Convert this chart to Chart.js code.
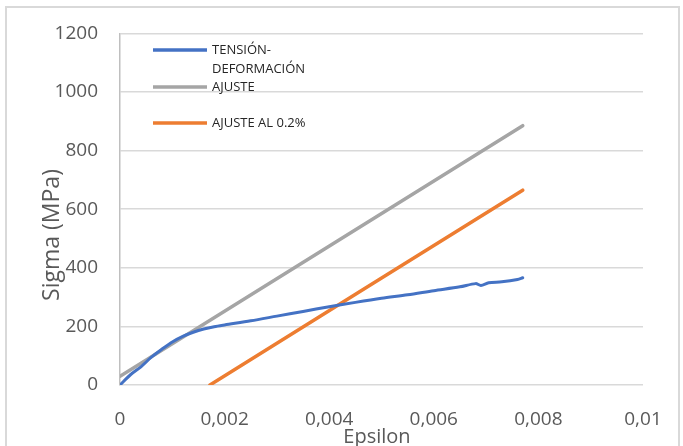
<!DOCTYPE html>
<html>
<head>
<meta charset="utf-8">
<script src="https://cdn.jsdelivr.net/npm/chart.js@4/dist/chart.umd.min.js"></script>
<style>
  body { margin: 0; background: #fff; }
  #wrap { width: 683px; height: 446px; position: relative; }
</style>
</head>
<body>
<div id="wrap"><canvas id="chart"></canvas></div>
<script>
// stress-strain curve
const epsTension = [0, 0.0002, 0.0004, 0.0006, 0.0008, 0.001, 0.0012, 0.0014, 0.0016, 0.0018, 0.002,
  0.0025, 0.003, 0.0035, 0.004, 0.0045, 0.005, 0.0055, 0.006, 0.0065, 0.0068, 0.0069, 0.00705, 0.0073, 0.0076, 0.0077];
const sigmaTension = [0, 35, 62, 95, 122, 147, 166, 180, 191, 199, 205,
  219, 235, 251, 267, 282, 296, 308, 322, 335, 346, 340, 349, 352, 360, 366];

// elastic fit
const epsAjuste = [0, 0.0077];
const sigmaAjuste = [30, 885];

// 0.2% offset line
const epsOffset = [0.00172, 0.0077];
const sigmaOffset = [0, 665];

const seriesNames = ['TENSIÓN-\nDEFORMACIÓN', 'AJUSTE', 'AJUSTE AL 0.2%'];
const seriesColors = ['#4472C4', '#A5A5A5', '#ED7D31'];

const xTicks = [0, 0.002, 0.004, 0.006, 0.008, 0.01];
const yTicks = [0, 200, 400, 600, 800, 1000, 1200];

function toPoints(xs, ys) {
  return xs.map((x, i) => ({ x: x, y: ys[i] }));
}

const FONT = "'Open Sans', 'Liberation Sans', sans-serif";
const TEXT = '#595959';

// frame around whole chart + custom legend + axis titles
const decorations = {
  id: 'decorations',
  beforeDraw(chart) {
    const c = chart.ctx;
    c.save();
    c.fillStyle = '#fff';
    c.fillRect(0, 0, chart.width, chart.height);
    c.strokeStyle = '#d9d9d9';
    c.lineWidth = 2;
    c.strokeRect(6, 7, 673, 460);
    c.restore();
  },
  afterDraw(chart) {
    const c = chart.ctx;
    c.save();
    // legend
    const rows = [50, 87, 123];
    c.font = '13px ' + FONT;
    c.fillStyle = '#262626';
    c.textBaseline = 'middle';
    seriesNames.forEach((name, i) => {
      c.strokeStyle = seriesColors[i];
      c.lineWidth = 3.5;
      c.beginPath();
      c.moveTo(153, rows[i]);
      c.lineTo(207, rows[i]);
      c.stroke();
      name.split('\n').forEach((line, j) => {
        c.fillText(line, 212, rows[i] + j * 19);
      });
    });
    // axis titles
    c.fillStyle = TEXT;
    c.textAlign = 'center';
    c.font = '20px ' + FONT;
    c.fillText('Epsilon', 377, 437);
    c.translate(52, 235);
    c.rotate(-Math.PI / 2);
    c.font = '23px ' + FONT;
    c.fillText('Sigma (MPa)', 0, 0);
    c.restore();
  }
};

const datasets = [
  { data: toPoints(epsTension, sigmaTension), borderColor: seriesColors[0], borderWidth: 3 },
  { data: toPoints(epsAjuste, sigmaAjuste), borderColor: seriesColors[1], borderWidth: 3.5 },
  { data: toPoints(epsOffset, sigmaOffset), borderColor: seriesColors[2], borderWidth: 3.5 }
].map(d => Object.assign(d, { pointRadius: 0, fill: false, tension: 0.3, borderCapStyle: 'round' }));

new Chart(document.getElementById('chart'), {
  type: 'line',
  data: { datasets: datasets },
  options: {
    responsive: true,
    maintainAspectRatio: false,
    animation: false,
    layout: { padding: { top: 33, right: 40, left: 0, bottom: 0 } },
    plugins: { legend: { display: false }, tooltip: { enabled: false } },
    scales: {
      x: {
        type: 'linear',
        min: 0,
        max: 0.01,
        afterFit(s) { s.height = 61; },
        afterBuildTicks(s) { s.ticks = xTicks.map(v => ({ value: v })); },
        grid: { display: false },
        border: { display: false },
        ticks: {
          padding: 15,
          color: TEXT,
          font: { family: FONT, size: 19 },
          maxRotation: 0,
          callback: v => v === 0 ? '0' : String(+v.toFixed(3)).replace('.', ',')
        }
      },
      y: {
        min: 0,
        max: 1200,
        afterFit(s) { s.width = 120; },
        afterBuildTicks(s) { s.ticks = yTicks.map(v => ({ value: v })); },
        grid: { color: '#d9d9d9', lineWidth: 1.5, drawTicks: false },
        border: { display: true, color: '#bfbfbf', width: 1.5 },
        ticks: {
          padding: 22,
          color: TEXT,
          font: { family: FONT, size: 19 },
          callback: v => String(v)
        }
      }
    }
  },
  plugins: [decorations]
});
</script>
</body>
</html>
